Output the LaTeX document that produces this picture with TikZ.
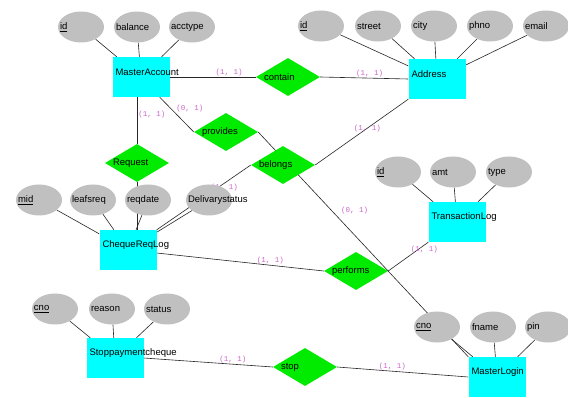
\documentclass[tikz,border=0pt]{standalone}
\usepackage{fontspec}
\setmainfont{Liberation Sans}
\newfontfamily\cardfont{Liberation Mono}
\usepackage{tikz}
\usetikzlibrary{
	shapes.geometric,
	backgrounds,
	calc
}

\definecolor{entcyan}{RGB}{0,255,255}
\definecolor{relgreen}{RGB}{0,235,0}
\definecolor{attrgray}{RGB}{192,192,192}
\definecolor{cardpink}{RGB}{204,102,204}

\begin{document}
\begin{tikzpicture}[x=1pt,y=-1pt,
		font=\fontsize{9.5}{11}\selectfont,
		entity/.style={rectangle,fill=entcyan,minimum width=57pt,minimum height=40pt,inner sep=0pt,
			label={[anchor=west,xshift=3pt,yshift=5pt,inner sep=0pt]west:#1}},
		attr/.style={ellipse,fill=attrgray,minimum width=46pt,minimum height=31pt,inner sep=0pt,
			label={[anchor=west,xshift=2pt,inner sep=0pt]west:#1}},
		rel/.style={diamond,fill=relgreen,minimum width=64pt,minimum height=38pt,inner sep=0pt,
			label={[anchor=west,xshift=8pt,inner sep=0pt]west:#1}},
		card/.style={font=\cardfont\fontsize{7.5}{8}\selectfont,text=cardpink,inner sep=1pt},
		conn/.style={draw=black!85,line width=0.6pt}
	]
		\useasboundingbox (0,0) rectangle (568,398);

		% entities
		\draw
			node[entity=MasterAccount]     (ma)    at (141,77)  {}
			node[entity=Address]           (addr)  at (437,79)  {}
			node[entity=ChequeReqLog]      (crl)   at (128,250) {}
			node[entity=TransactionLog]    (tlog)  at (457,222) {}
			node[entity=Stoppaymentcheque] (spc)   at (115,358) {}
			node[entity=MasterLogin]       (ml)    at (497,377) {}
		;

		% relationships
		\draw
			node[rel=contain]  (contain)  at (288,77)  {}
			node[rel=Request]  (request)  at (137,163) {}
			node[rel=provides] (provides) at (226,132) {}
			node[rel=belongs]  (belongs)  at (283,165) {}
			node[rel=performs] (performs) at (356,271) {}
			node[rel=stop]     (stop)     at (305,367) {}
		;

		% attributes
		\draw
			node[attr=\underline{id}]  (ma-id)      at (81,27)   {}
			node[attr=balance]         (ma-bal)     at (137,27)  {}
			node[attr=acctype]         (ma-type)    at (192,27)  {}

			node[attr=\underline{id}]  (addr-id)    at (321,26)  {}
			node[attr=street]          (addr-st)    at (378,26)  {}
			node[attr=city]            (addr-city)  at (434,26)  {}
			node[attr=phno]            (addr-ph)    at (490,26)  {}
			node[attr=email]           (addr-mail)  at (546,26)  {}

			node[attr=\underline{mid}] (crl-mid)    at (39,200)  {}
			node[attr=leafsreq]        (crl-leafs)  at (93,200)  {}
			node[attr=reqdate]         (crl-date)   at (148,200) {}
			node[attr=Delivarystatus]  (crl-stat)   at (209,200) {}

			node[attr=\underline{id}]  (tlog-id)    at (398,172) {}
			node[attr=amt]             (tlog-amt)   at (453,172) {}
			node[attr=type]            (tlog-type)  at (509,172) {}

			node[attr=\underline{cno}] (spc-cno)    at (55,309)  {}
			node[attr=reason]          (spc-reason) at (112,309) {}
			node[attr=status]          (spc-stat)   at (167,309) {}

			node[attr=\underline{cno}] (ml-cno)     at (437,327) {}
			node[attr=fname]           (ml-fname)   at (493,327) {}
			node[attr=pin]             (ml-pin)     at (548,327) {}
		;

		\begin{scope}[on background layer]
			\fill[white] (0,0) rectangle (568,398);

			% attribute links
			\draw[conn]
				(ma-id) edge (ma)  (ma-bal) edge (ma)  (ma-type) edge (ma)
				(addr-id) edge (addr)  (addr-st) edge (addr)  (addr-city) edge (addr)
				(addr-ph) edge (addr)  (addr-mail) edge (addr)
				(crl-mid) edge (crl)  (crl-leafs) edge (crl)  (crl-date) edge (crl)  (crl-stat) edge (crl)
				(tlog-id) edge (tlog)  (tlog-amt) edge (tlog)  (tlog-type) edge (tlog)
				(spc-cno) edge (spc)  (spc-reason) edge (spc)  (spc-stat) edge (spc)
				(ml-cno) edge (ml)  (ml-fname) edge (ml)  (ml-pin) edge (ml)
			;

			% relationship links
			\draw[conn]
				(ma.east)             edge node[card,pos=0.69,above]          {(1, 1)} (contain.west)
				(contain.east)        edge node[card,pos=0.56,above]          {(1, 1)} (addr.west)
				(request.north |- ma.south) edge node[card,pos=0.375,right]   {(1, 1)} (request.north)
				([xshift=-10pt]ma.south east) edge node[card,pos=0.45,above right] {(0, 1)} (provides.west)
				(provides.east)       edge node[card,pos=0.35,right=8pt]      {(0, 1)} (ml.north west)
				(addr.south west)     edge node[card,pos=0.44]                {(1, 1)} (belongs.east)
				(belongs.west)        edge node[card,pos=0.28,yshift=-4pt]    {(1, 1)} (crl.north east)
				(request.south)       edge (request.south |- crl.north)
				([yshift=-3pt]crl.east) edge node[card,pos=0.68,above]        {(1, 1)} (performs.west)
				(performs.east)       edge node[card,pos=0.9,below]           {(1, 1)} (tlog.south west)
				(spc.east)            edge node[card,pos=0.69,above]          {(1, 1)} (stop.west)
				(stop.east)           edge node[card,pos=0.42,above]          {(1, 1)} (ml.west)
			;
		\end{scope}
	\end{tikzpicture}
\end{document}
